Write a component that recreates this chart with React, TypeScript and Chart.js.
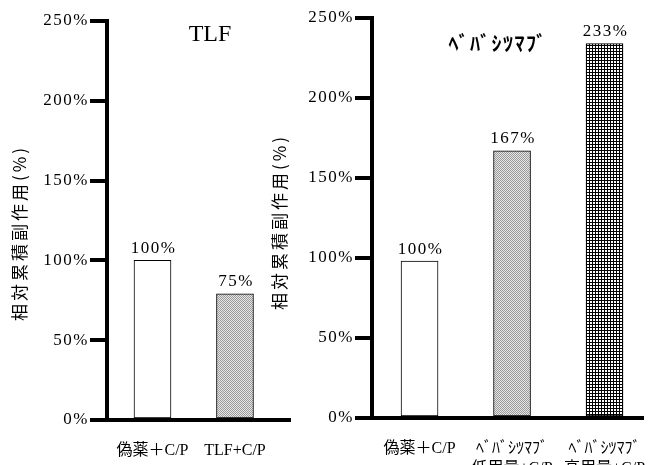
import React, { useEffect, useRef } from 'react';
import { Chart, registerables } from 'chart.js';

Chart.register(...registerables);

// ---- data ----
const leftCategories: (string | string[])[] = ['偽薬＋C/P', 'TLF+C/P'];
const leftValues = [100, 79];
const leftValueLabels = ['100%', '75%'];
const leftTitle = 'TLF';

const rightCategories: (string | string[])[] = [
  '偽薬＋C/P',
  ['ﾍﾞﾊﾞｼﾂﾏﾌﾞ', '低用量+C/P'],
  ['ﾍﾞﾊﾞｼﾂﾏﾌﾞ', '高用量+C/P'],
];
const rightValues = [98, 167, 234];
const rightValueLabels = ['100%', '167%', '233%'];
const rightTitle = 'ﾍﾞﾊﾞｼﾂﾏﾌﾞ';

const yTickValues = [0, 50, 100, 150, 200, 250];
const yTitle = '相対累積副作用(%)';

const SERIF = "'Liberation Serif', 'Noto Sans CJK JP', serif";

function makePattern(kind: 'dots' | 'grid'): CanvasPattern | string {
  const c = document.createElement('canvas');
  const g = c.getContext('2d');
  if (!g) return '#bbb';
  if (kind === 'dots') {
    c.width = 2;
    c.height = 2;
    g.fillStyle = '#e6e6e6';
    g.fillRect(0, 0, 2, 2);
    g.fillStyle = '#9a9a9a';
    g.fillRect(0, 0, 1, 1);
    g.fillRect(1, 1, 1, 1);
  } else {
    c.width = 3;
    c.height = 3;
    g.fillStyle = '#ffffff';
    g.fillRect(0, 0, 3, 3);
    g.fillStyle = '#000000';
    g.fillRect(0, 0, 3, 1);
    g.fillRect(0, 0, 1, 3);
  }
  return g.createPattern(c, 'repeat') || '#bbb';
}

const annotPlugin = {
  id: 'annot',
  beforeDraw(chart: any) {
    (chart.ctx as any).letterSpacing = '0px';
  },
  afterDatasetsDraw(chart: any, _args: any, opts: any) {
    const ctx = chart.ctx as CanvasRenderingContext2D & { letterSpacing?: string };
    const meta = chart.getDatasetMeta(0);
    // value labels
    ctx.save();
    ctx.letterSpacing = '1.5px';
    ctx.fillStyle = '#000';
    ctx.textAlign = 'center';
    ctx.textBaseline = 'middle';
    ctx.font = `17px ${SERIF}`;
    meta.data.forEach((bar: any, i: number) => {
      ctx.fillText(opts.valueLabels[i], bar.x + 1, bar.y - 12);
    });
    ctx.restore();
    // chart title
    ctx.save();
    ctx.letterSpacing = opts.titleSpacing;
    ctx.fillStyle = '#000';
    ctx.textAlign = 'center';
    ctx.textBaseline = 'middle';
    ctx.font = opts.titleFont;
    ctx.fillText(opts.title, opts.titleX, opts.titleY);
    ctx.restore();
    // y title
    ctx.save();
    ctx.translate(opts.yTitleX, opts.yTitleY);
    ctx.rotate(-Math.PI / 2);
    ctx.letterSpacing = '3px';
    ctx.fillStyle = '#000';
    ctx.textAlign = 'center';
    ctx.textBaseline = 'middle';
    ctx.font = "17px 'Noto Sans CJK JP', sans-serif";
    ctx.fillText(yTitle, 0, 0);
    ctx.restore();
    // spacing for the y-axis tick labels drawn next
    ctx.letterSpacing = '1.5px';
  },
  afterDraw(chart: any) {
    (chart.ctx as any).letterSpacing = '0px';
  },
};

interface Spec {
  categories: (string | string[])[];
  values: number[];
  valueLabels: string[];
  fills: (CanvasPattern | string)[];
  title: string;
  titleFont: string;
  titleSpacing: string;
  titleX: number;
  titleY: number;
  yTitleX: number;
  yTitleY: number;
  xMin: number;
  xMax: number;
  yWidth: number;
  xHeight: number;
  padTop: number;
  padRight: number;
}

function buildConfig(s: Spec): any {
  return {
    type: 'bar',
    data: {
      datasets: [
        {
          data: s.values.map((v, i) => ({ x: i + 1, y: v })),
          backgroundColor: s.fills,
          borderColor: '#000',
          borderWidth: 1,
          borderSkipped: false,
          barThickness: 37,
        },
      ],
    },
    plugins: [annotPlugin],
    options: {
      responsive: false,
      animation: false,
      layout: { padding: { top: s.padTop, right: s.padRight, left: 0, bottom: 0 } },
      plugins: {
        legend: { display: false },
        tooltip: { enabled: false },
        title: { display: false },
        annot: {
          valueLabels: s.valueLabels,
          title: s.title,
          titleFont: s.titleFont,
          titleSpacing: s.titleSpacing,
          titleX: s.titleX,
          titleY: s.titleY,
          yTitleX: s.yTitleX,
          yTitleY: s.yTitleY,
        },
      },
      scales: {
        x: {
          type: 'linear',
          offset: false,
          min: s.xMin,
          max: s.xMax,
          afterBuildTicks: (sc: any) => {
            sc.ticks = s.categories.map((_, i) => ({ value: i + 1 }));
          },
          ticks: {
            callback: (v: number) => s.categories[v - 1],
            autoSkip: false,
            maxRotation: 0,
            minRotation: 0,
            padding: 13,
            color: '#000',
            font: { family: SERIF, size: 16, lineHeight: 1.25 },
          },
          grid: { display: false, offset: false },
          border: { display: true, color: '#000', width: 4, z: 1 },
          afterFit: (sc: any) => {
            sc.height = s.xHeight;
            sc.paddingLeft = 0;
            sc.paddingRight = 0;
          },
        },
        y: {
          min: 0,
          max: 250,
          afterBuildTicks: (sc: any) => {
            sc.ticks = yTickValues.map((v) => ({ value: v }));
          },
          ticks: {
            z: 1,
            callback: (v: number) => v + '%',
            padding: 1,
            color: '#000',
            font: { family: SERIF, size: 17 },
          },
          grid: {
            drawOnChartArea: false,
            drawTicks: true,
            tickLength: 17,
            tickWidth: 4,
            tickColor: '#000',
            lineWidth: 4,
            color: '#000',
          },
          border: { display: true, color: '#000', width: 4, z: 1 },
          afterFit: (sc: any) => {
            sc.width = s.yWidth;
            sc.paddingTop = 0;
            sc.paddingBottom = 0;
          },
        },
      },
    },
  };
}

export default function App() {
  const leftRef = useRef<HTMLCanvasElement>(null);
  const rightRef = useRef<HTMLCanvasElement>(null);

  useEffect(() => {
    const dots = makePattern('dots');
    const grid = makePattern('grid');
    const c1 = new Chart(
      leftRef.current as HTMLCanvasElement,
      buildConfig({
        categories: leftCategories,
        values: leftValues,
        valueLabels: leftValueLabels,
        fills: ['#ffffff', dots],
        title: leftTitle,
        titleFont: `24px ${SERIF}`,
        titleSpacing: '0px',
        titleX: 210,
        titleY: 35,
        yTitleX: 20,
        yTitleY: 233,
        xMin: 0.4485,
        xMax: 2.667,
        yWidth: 107,
        xHeight: 45,
        padTop: 21,
        padRight: 10,
      })
    );
    const c2 = new Chart(
      rightRef.current as HTMLCanvasElement,
      buildConfig({
        categories: rightCategories,
        values: rightValues,
        valueLabels: rightValueLabels,
        fills: ['#ffffff', dots, grid],
        title: rightTitle,
        titleFont: "bold 20px 'Noto Sans CJK JP', sans-serif",
        titleSpacing: '1.5px',
        titleX: 236,
        titleY: 43,
        yTitleX: 18,
        yTitleY: 222,
        xMin: 0.486,
        xMax: 3.416,
        yWidth: 110,
        xHeight: 47,
        padTop: 18,
        padRight: 17,
      })
    );
    return () => {
      c1.destroy();
      c2.destroy();
    };
  }, []);

  return (
    <div style={{ position: 'fixed', left: 0, top: 0, width: 660, height: 465, background: '#fff', overflow: 'hidden' }}>
      <canvas
        ref={leftRef}
        width={300}
        height={465}
        style={{ position: 'absolute', left: 0, top: 0, display: 'block' }}
      />
      <canvas
        ref={rightRef}
        width={398}
        height={465}
        style={{ position: 'absolute', left: 262, top: 0, display: 'block' }}
      />
    </div>
  );
}
